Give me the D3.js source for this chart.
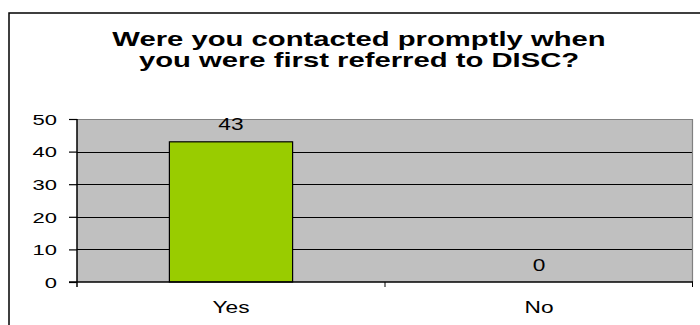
<!DOCTYPE html>
<html>
<head>
<meta charset="utf-8">
<script src="https://cdn.jsdelivr.net/npm/d3@7"></script>
<style>
  html, body { margin: 0; padding: 0; background: #fff; }
  svg { display: block; }
  text { font-family: Arial, "Liberation Sans", sans-serif; fill: #000; }
</style>
</head>
<body>
<svg id="chart" width="700" height="325"></svg>
<script>
// Survey answers
const categories = ["Yes", "No"];
const counts = [43, 0];
const yTicks = [0, 10, 20, 30, 40, 50];
const titleLines = ["Were you contacted promptly when", "you were first referred to DISC?"];

const W = 700, H = 325;
const plot = { left: 77, right: 693, top: 119, bottom: 282 };
const stretch = 1.42; // wide lettering of the chart

const svg = d3.select("#chart");

// outer frame
svg.append("rect")
  .attr("x", 9).attr("y", 13)
  .attr("width", 700).attr("height", 330)
  .attr("fill", "#fff").attr("stroke", "#000").attr("stroke-width", 1.5);

// helper: stretched text
function stretchedText(g, x, y, str, opts) {
  return g.append("text")
    .attr("transform", `translate(${x},${y}) scale(${opts.stretch || stretch},1)`)
    .attr("text-anchor", opts.anchor || "middle")
    .attr("dominant-baseline", opts.baseline || "alphabetic")
    .style("font-size", opts.size + "px")
    .style("font-weight", opts.weight || "normal")
    .text(str);
}

// title
titleLines.forEach((line, i) => {
  stretchedText(svg, 359, 45.5 + i * 21, line, { size: 19.5, weight: "bold", stretch: 1.5 });
});

const x = d3.scaleBand()
  .domain(categories)
  .range([plot.left, plot.right])
  .paddingInner(0.6)
  .paddingOuter(0.3);

const y = d3.scaleLinear()
  .domain([0, 50])
  .range([plot.bottom, plot.top]);

// plot background
svg.append("rect")
  .attr("x", plot.left).attr("y", plot.top)
  .attr("width", plot.right - plot.left).attr("height", plot.bottom - plot.top)
  .attr("fill", "#c0c0c0");

// gridlines
svg.append("g").selectAll("line")
  .data(yTicks.filter(d => d > 0 && d < 50))
  .join("line")
  .attr("x1", plot.left).attr("x2", plot.right)
  .attr("y1", d => Math.round(y(d)) + 0.5).attr("y2", d => Math.round(y(d)) + 0.5)
  .attr("stroke", "#000").attr("stroke-width", 1);

// plot border top / right
svg.append("path")
  .attr("d", `M${plot.left},${plot.top + 0.5}H${plot.right - 0.5}V${plot.bottom}`)
  .attr("fill", "none").attr("stroke", "#808080").attr("stroke-width", 1.2);

// bars
svg.append("g").selectAll("rect")
  .data(categories.map((c, i) => ({ c, v: counts[i] })))
  .join("rect")
  .attr("x", d => x(d.c))
  .attr("y", d => y(d.v))
  .attr("width", x.bandwidth())
  .attr("height", d => y(0) - y(d.v))
  .attr("fill", "#99cc00")
  .attr("stroke", "#000").attr("stroke-width", 1.2)
  .attr("display", d => d.v > 0 ? null : "none");

// value labels
categories.forEach((c, i) => {
  stretchedText(svg, x(c) + x.bandwidth() / 2, y(counts[i]) - 11.5, String(counts[i]), { size: 16 });
});

// y axis
const yAxis = svg.append("g")
  .attr("transform", `translate(${plot.left},0)`)
  .call(d3.axisLeft(y).tickValues(yTicks).tickSize(8).tickSizeOuter(0).tickFormat(d3.format("d")));
yAxis.select(".domain").attr("stroke", "#000").attr("stroke-width", 1.5)
  .attr("d", `M0,${plot.top}V${plot.bottom + 5}`);
yAxis.selectAll(".tick line").attr("stroke", "#000").attr("stroke-width", 1.2);
yAxis.selectAll(".tick text").remove();
yAxis.selectAll(".tick").each(function (d) {
  stretchedText(d3.select(this), -20, 0, String(d), { size: 15.5, anchor: "end", baseline: "central" });
});

// x axis
const xAxis = svg.append("g")
  .attr("transform", `translate(0,${plot.bottom})`);
xAxis.append("line")
  .attr("x1", plot.left - 8).attr("x2", plot.right)
  .attr("y1", 0).attr("y2", 0)
  .attr("stroke", "#000").attr("stroke-width", 1.5);
// category separators
const seps = [plot.left + x.step(), plot.right - 0.5];
xAxis.selectAll("line.sep").data(seps).join("line")
  .attr("class", "sep")
  .attr("x1", d => d).attr("x2", d => d)
  .attr("y1", 0).attr("y2", 5)
  .attr("stroke", "#000").attr("stroke-width", 1);
categories.forEach(c => {
  stretchedText(xAxis, x(c) + x.bandwidth() / 2, 30.5, c, { size: 16 });
});
</script>
</body>
</html>
